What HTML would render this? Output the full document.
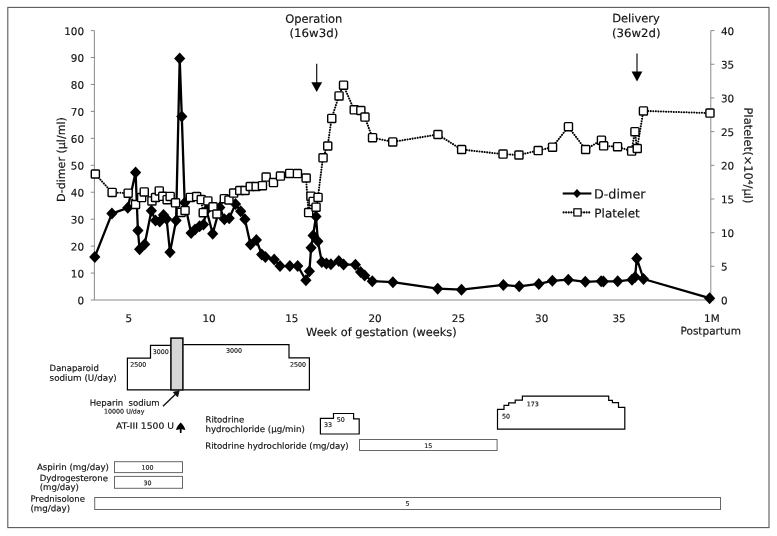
<!DOCTYPE html>
<html lang="en"><head><meta charset="utf-8"><title>Clinical course</title>
<style>html,body{margin:0;padding:0;background:#fff}svg{display:block}text{font-family:"DejaVu Sans","Liberation Sans",sans-serif;fill:#111;stroke:#111;stroke-width:.16px;stroke-linejoin:round}</style>
</head><body>
<svg width="777" height="536" viewBox="0 0 777 536">
<rect x="0" y="0" width="777" height="536" fill="#fff"/>
<rect x="7.8" y="7.4" width="761.2" height="520.2" fill="none" stroke="#5a5a5a" stroke-width="1.1"/>
<g stroke="#8a8a8a" stroke-width="1" fill="none">
<path d="M94.4 30.6 V300.0 H710.8 V30.6"/>
<path d="M90.8 300.00 H94.4"/>
<path d="M90.8 273.06 H94.4"/>
<path d="M90.8 246.12 H94.4"/>
<path d="M90.8 219.18 H94.4"/>
<path d="M90.8 192.24 H94.4"/>
<path d="M90.8 165.30 H94.4"/>
<path d="M90.8 138.36 H94.4"/>
<path d="M90.8 111.42 H94.4"/>
<path d="M90.8 84.48 H94.4"/>
<path d="M90.8 57.54 H94.4"/>
<path d="M90.8 30.60 H94.4"/>
<path d="M710.8 300.00 H714.4"/>
<path d="M710.8 266.32 H714.4"/>
<path d="M710.8 232.65 H714.4"/>
<path d="M710.8 198.98 H714.4"/>
<path d="M710.8 165.30 H714.4"/>
<path d="M710.8 131.62 H714.4"/>
<path d="M710.8 97.95 H714.4"/>
<path d="M710.8 64.28 H714.4"/>
<path d="M710.8 30.60 H714.4"/>
</g>
<g font-size="10.4" text-anchor="end">
<text transform="rotate(.03 84 304.3)" x="84" y="304.3">0</text>
<text transform="rotate(.03 84 277.4)" x="84" y="277.4">10</text>
<text transform="rotate(.03 84 250.4)" x="84" y="250.4">20</text>
<text transform="rotate(.03 84 223.5)" x="84" y="223.5">30</text>
<text transform="rotate(.03 84 196.5)" x="84" y="196.5">40</text>
<text transform="rotate(.03 84 169.6)" x="84" y="169.6">50</text>
<text transform="rotate(.03 84 142.7)" x="84" y="142.7">60</text>
<text transform="rotate(.03 84 115.7)" x="84" y="115.7">70</text>
<text transform="rotate(.03 84 88.8)" x="84" y="88.8">80</text>
<text transform="rotate(.03 84 61.8)" x="84" y="61.8">90</text>
<text transform="rotate(.03 84 34.9)" x="84" y="34.9">100</text>
</g>
<g font-size="10.4" text-anchor="start">
<text transform="rotate(.03 721 304.3)" x="721" y="304.3">0</text>
<text transform="rotate(.03 721 270.6)" x="721" y="270.6">5</text>
<text transform="rotate(.03 721 237.0)" x="721" y="237.0">10</text>
<text transform="rotate(.03 721 203.3)" x="721" y="203.3">15</text>
<text transform="rotate(.03 721 169.6)" x="721" y="169.6">20</text>
<text transform="rotate(.03 721 135.9)" x="721" y="135.9">25</text>
<text transform="rotate(.03 721 102.3)" x="721" y="102.3">30</text>
<text transform="rotate(.03 721 68.6)" x="721" y="68.6">35</text>
<text transform="rotate(.03 721 34.9)" x="721" y="34.9">40</text>
</g>
<g font-size="10.4" text-anchor="middle">
<text transform="rotate(.03 128.9 321.9)" x="128.9" y="321.9">5</text>
<text transform="rotate(.03 209.0 321.9)" x="209.0" y="321.9">10</text>
<text transform="rotate(.03 291.8 321.9)" x="291.8" y="321.9">15</text>
<text transform="rotate(.03 375.0 321.9)" x="375.0" y="321.9">20</text>
<text transform="rotate(.03 458.4 321.9)" x="458.4" y="321.9">25</text>
<text transform="rotate(.03 541.7 321.9)" x="541.7" y="321.9">30</text>
<text transform="rotate(.03 619.0 321.9)" x="619.0" y="321.9">35</text>
<text transform="rotate(.03 711.9 321.9)" x="711.9" y="321.9">1M</text>
</g>
<text transform="rotate(.03 381.4 336)" x="381.4" y="336" font-size="11.35" text-anchor="middle">Week of gestation (weeks)</text>
<text transform="rotate(.03 710.7 334.5)" x="710.7" y="334.5" font-size="10.5" text-anchor="middle">Postpartum</text>
<text transform="rotate(.03 313.8 22.8)" x="313.8" y="22.8" font-size="11.5" text-anchor="middle">Operation</text>
<text transform="rotate(.03 289.5 37)" x="289.5" y="37" font-size="11.5" textLength="48.8" lengthAdjust="spacingAndGlyphs">(16w3d)</text>
<text transform="rotate(.03 636 22.3)" x="636" y="22.3" font-size="11.5" text-anchor="middle">Delivery</text>
<text transform="rotate(.03 611.9 37)" x="611.9" y="37" font-size="11.5" textLength="48.6" lengthAdjust="spacingAndGlyphs">(36w2d)</text>
<text transform="translate(64.9 159.5) rotate(-89.97)" font-size="11.1" text-anchor="middle">D-dimer (μl/ml)</text>
<text transform="translate(744.2 155.5) rotate(90.03)" font-size="11.5" text-anchor="middle">Platelet(×10⁴/μl)</text>
<path d="M316.7 63.8 V84.0" stroke="#111" stroke-width="1.2" fill="none"/>
<path d="M311.3 82.2 L322.1 82.2 L316.7 92.0 Z" fill="#000"/>
<path d="M637.0 53.4 V73.4" stroke="#111" stroke-width="1.2" fill="none"/>
<path d="M631.6 71.6 L642.4 71.6 L637.0 81.4 Z" fill="#000"/>
<polyline points="94.8,256.9 111.9,213.6 127.8,207.8 135.6,172.6 137.9,230.5 139.6,249.3 144.7,244.3 151.4,210.8 155.5,220.4 159.8,221.6 163.5,215.0 166.6,219.0 170.0,252.2 176.1,220.5 179.7,58.6 181.8,116.6 184.7,202.7 191.1,232.9 195.0,229.6 199.6,226.3 203.5,224.4 206.5,210.0 212.7,233.8 219.8,207.4 224.4,219.2 229.2,218.2 235.5,204.1 240.7,211.3 244.9,219.2 250.5,244.6 256.4,240.0 261.7,254.4 265.4,257.0 274.2,259.6 280.0,266.1 289.8,266.1 297.7,265.9 305.9,280.2 309.4,271.3 311.1,247.8 313.1,235.4 316.0,216.5 317.9,241.3 321.8,262.0 326.4,263.5 330.9,264.2 338.8,260.9 343.6,264.5 355.4,264.7 360.6,271.9 364.7,275.4 372.3,281.2 392.9,282.2 437.7,288.7 461.5,289.7 503.4,284.9 519.2,286.3 538.8,283.9 552.4,280.8 568.3,279.7 585.3,281.8 601.2,281.2 603.4,281.4 617.7,281.3 632.0,279.7 635.1,277.0 636.8,258.4 643.5,279.0 709.6,298.2" fill="none" stroke="#000" stroke-width="2.3" stroke-linejoin="round"/>
<g fill="#000">
<path d="M94.8 250.9 l5.6 6 l-5.6 6 l-5.6 -6z"/>
<path d="M111.9 207.6 l5.6 6 l-5.6 6 l-5.6 -6z"/>
<path d="M127.8 201.8 l5.6 6 l-5.6 6 l-5.6 -6z"/>
<path d="M135.6 166.6 l5.6 6 l-5.6 6 l-5.6 -6z"/>
<path d="M137.9 224.5 l5.6 6 l-5.6 6 l-5.6 -6z"/>
<path d="M139.6 243.3 l5.6 6 l-5.6 6 l-5.6 -6z"/>
<path d="M144.7 238.3 l5.6 6 l-5.6 6 l-5.6 -6z"/>
<path d="M151.4 204.8 l5.6 6 l-5.6 6 l-5.6 -6z"/>
<path d="M155.5 214.4 l5.6 6 l-5.6 6 l-5.6 -6z"/>
<path d="M159.8 215.6 l5.6 6 l-5.6 6 l-5.6 -6z"/>
<path d="M163.5 209.0 l5.6 6 l-5.6 6 l-5.6 -6z"/>
<path d="M166.6 213.0 l5.6 6 l-5.6 6 l-5.6 -6z"/>
<path d="M170.0 246.2 l5.6 6 l-5.6 6 l-5.6 -6z"/>
<path d="M176.1 214.5 l5.6 6 l-5.6 6 l-5.6 -6z"/>
<path d="M179.7 52.6 l5.6 6 l-5.6 6 l-5.6 -6z"/>
<path d="M181.8 110.6 l5.6 6 l-5.6 6 l-5.6 -6z"/>
<path d="M184.7 196.7 l5.6 6 l-5.6 6 l-5.6 -6z"/>
<path d="M191.1 226.9 l5.6 6 l-5.6 6 l-5.6 -6z"/>
<path d="M195.0 223.6 l5.6 6 l-5.6 6 l-5.6 -6z"/>
<path d="M199.6 220.3 l5.6 6 l-5.6 6 l-5.6 -6z"/>
<path d="M203.5 218.4 l5.6 6 l-5.6 6 l-5.6 -6z"/>
<path d="M206.5 204.0 l5.6 6 l-5.6 6 l-5.6 -6z"/>
<path d="M212.7 227.8 l5.6 6 l-5.6 6 l-5.6 -6z"/>
<path d="M219.8 201.4 l5.6 6 l-5.6 6 l-5.6 -6z"/>
<path d="M224.4 213.2 l5.6 6 l-5.6 6 l-5.6 -6z"/>
<path d="M229.2 212.2 l5.6 6 l-5.6 6 l-5.6 -6z"/>
<path d="M235.5 198.1 l5.6 6 l-5.6 6 l-5.6 -6z"/>
<path d="M240.7 205.3 l5.6 6 l-5.6 6 l-5.6 -6z"/>
<path d="M244.9 213.2 l5.6 6 l-5.6 6 l-5.6 -6z"/>
<path d="M250.5 238.6 l5.6 6 l-5.6 6 l-5.6 -6z"/>
<path d="M256.4 234.0 l5.6 6 l-5.6 6 l-5.6 -6z"/>
<path d="M261.7 248.4 l5.6 6 l-5.6 6 l-5.6 -6z"/>
<path d="M265.4 251.0 l5.6 6 l-5.6 6 l-5.6 -6z"/>
<path d="M274.2 253.6 l5.6 6 l-5.6 6 l-5.6 -6z"/>
<path d="M280.0 260.1 l5.6 6 l-5.6 6 l-5.6 -6z"/>
<path d="M289.8 260.1 l5.6 6 l-5.6 6 l-5.6 -6z"/>
<path d="M297.7 259.9 l5.6 6 l-5.6 6 l-5.6 -6z"/>
<path d="M305.9 274.2 l5.6 6 l-5.6 6 l-5.6 -6z"/>
<path d="M309.4 265.3 l5.6 6 l-5.6 6 l-5.6 -6z"/>
<path d="M311.1 241.8 l5.6 6 l-5.6 6 l-5.6 -6z"/>
<path d="M313.1 229.4 l5.6 6 l-5.6 6 l-5.6 -6z"/>
<path d="M316.0 210.5 l5.6 6 l-5.6 6 l-5.6 -6z"/>
<path d="M317.9 235.3 l5.6 6 l-5.6 6 l-5.6 -6z"/>
<path d="M321.8 256.0 l5.6 6 l-5.6 6 l-5.6 -6z"/>
<path d="M326.4 257.5 l5.6 6 l-5.6 6 l-5.6 -6z"/>
<path d="M330.9 258.2 l5.6 6 l-5.6 6 l-5.6 -6z"/>
<path d="M338.8 254.9 l5.6 6 l-5.6 6 l-5.6 -6z"/>
<path d="M343.6 258.5 l5.6 6 l-5.6 6 l-5.6 -6z"/>
<path d="M355.4 258.7 l5.6 6 l-5.6 6 l-5.6 -6z"/>
<path d="M360.6 265.9 l5.6 6 l-5.6 6 l-5.6 -6z"/>
<path d="M364.7 269.4 l5.6 6 l-5.6 6 l-5.6 -6z"/>
<path d="M372.3 275.2 l5.6 6 l-5.6 6 l-5.6 -6z"/>
<path d="M392.9 276.2 l5.6 6 l-5.6 6 l-5.6 -6z"/>
<path d="M437.7 282.7 l5.6 6 l-5.6 6 l-5.6 -6z"/>
<path d="M461.5 283.7 l5.6 6 l-5.6 6 l-5.6 -6z"/>
<path d="M503.4 278.9 l5.6 6 l-5.6 6 l-5.6 -6z"/>
<path d="M519.2 280.3 l5.6 6 l-5.6 6 l-5.6 -6z"/>
<path d="M538.8 277.9 l5.6 6 l-5.6 6 l-5.6 -6z"/>
<path d="M552.4 274.8 l5.6 6 l-5.6 6 l-5.6 -6z"/>
<path d="M568.3 273.7 l5.6 6 l-5.6 6 l-5.6 -6z"/>
<path d="M585.3 275.8 l5.6 6 l-5.6 6 l-5.6 -6z"/>
<path d="M601.2 275.2 l5.6 6 l-5.6 6 l-5.6 -6z"/>
<path d="M603.4 275.4 l5.6 6 l-5.6 6 l-5.6 -6z"/>
<path d="M617.7 275.3 l5.6 6 l-5.6 6 l-5.6 -6z"/>
<path d="M632.0 273.7 l5.6 6 l-5.6 6 l-5.6 -6z"/>
<path d="M635.1 271.0 l5.6 6 l-5.6 6 l-5.6 -6z"/>
<path d="M636.8 252.4 l5.6 6 l-5.6 6 l-5.6 -6z"/>
<path d="M643.5 273.0 l5.6 6 l-5.6 6 l-5.6 -6z"/>
<path d="M709.6 292.2 l5.6 6 l-5.6 6 l-5.6 -6z"/>
</g>
<polyline points="95.2,174.0 112.0,192.4 128.0,193.2 135.4,204.5 141.5,197.6 144.1,191.9 151.8,200.9 155.4,197.5 159.1,190.9 162.6,196.3 167.0,199.7 170.0,196.4 175.4,202.8 181.0,212.4 184.9,210.5 190.2,197.4 196.5,196.6 201.1,199.6 203.1,212.7 207.7,200.9 212.9,206.8 216.8,214.0 224.2,198.7 228.8,200.0 233.5,193.1 239.6,190.5 244.9,190.5 250.1,186.5 256.0,186.5 262.3,185.7 266.0,177.1 273.3,182.6 280.3,176.1 289.5,173.4 297.3,173.6 306.0,178.0 308.5,212.6 310.8,196.2 313.0,201.4 315.9,207.2 317.9,197.4 322.9,157.8 327.6,146.0 331.6,118.4 338.9,95.9 343.4,85.2 354.1,109.8 360.7,110.5 364.8,117.1 372.4,137.7 392.6,141.9 437.8,134.5 461.5,149.5 502.9,154.1 518.8,155.0 538.0,150.6 552.4,147.2 568.3,126.7 585.5,149.5 601.3,140.2 603.5,145.8 617.4,146.7 631.5,151.1 634.8,131.7 637.1,148.5 643.3,110.9 709.8,113.1" fill="none" stroke="#000" stroke-width="2.05" stroke-linecap="round" stroke-dasharray="0.01 2.55"/>
<g fill="#fff" stroke="#000" stroke-width="1.4">
<rect x="91.30" y="169.95" width="8.1" height="8.1" rx="0.8"/>
<rect x="108.10" y="188.35" width="8.1" height="8.1" rx="0.8"/>
<rect x="124.10" y="189.15" width="8.1" height="8.1" rx="0.8"/>
<rect x="131.50" y="200.45" width="8.1" height="8.1" rx="0.8"/>
<rect x="137.60" y="193.55" width="8.1" height="8.1" rx="0.8"/>
<rect x="140.20" y="187.85" width="8.1" height="8.1" rx="0.8"/>
<rect x="147.90" y="196.85" width="8.1" height="8.1" rx="0.8"/>
<rect x="151.50" y="193.45" width="8.1" height="8.1" rx="0.8"/>
<rect x="155.20" y="186.85" width="8.1" height="8.1" rx="0.8"/>
<rect x="158.70" y="192.25" width="8.1" height="8.1" rx="0.8"/>
<rect x="163.10" y="195.65" width="8.1" height="8.1" rx="0.8"/>
<rect x="166.10" y="192.35" width="8.1" height="8.1" rx="0.8"/>
<rect x="171.50" y="198.75" width="8.1" height="8.1" rx="0.8"/>
<rect x="177.10" y="208.35" width="8.1" height="8.1" rx="0.8"/>
<rect x="181.00" y="206.45" width="8.1" height="8.1" rx="0.8"/>
<rect x="186.30" y="193.35" width="8.1" height="8.1" rx="0.8"/>
<rect x="192.60" y="192.55" width="8.1" height="8.1" rx="0.8"/>
<rect x="197.20" y="195.55" width="8.1" height="8.1" rx="0.8"/>
<rect x="199.20" y="208.65" width="8.1" height="8.1" rx="0.8"/>
<rect x="203.80" y="196.85" width="8.1" height="8.1" rx="0.8"/>
<rect x="209.00" y="202.75" width="8.1" height="8.1" rx="0.8"/>
<rect x="212.90" y="209.95" width="8.1" height="8.1" rx="0.8"/>
<rect x="220.30" y="194.65" width="8.1" height="8.1" rx="0.8"/>
<rect x="224.90" y="195.95" width="8.1" height="8.1" rx="0.8"/>
<rect x="229.60" y="189.05" width="8.1" height="8.1" rx="0.8"/>
<rect x="235.70" y="186.45" width="8.1" height="8.1" rx="0.8"/>
<rect x="241.00" y="186.45" width="8.1" height="8.1" rx="0.8"/>
<rect x="246.20" y="182.45" width="8.1" height="8.1" rx="0.8"/>
<rect x="252.10" y="182.45" width="8.1" height="8.1" rx="0.8"/>
<rect x="258.40" y="181.65" width="8.1" height="8.1" rx="0.8"/>
<rect x="262.10" y="173.05" width="8.1" height="8.1" rx="0.8"/>
<rect x="269.40" y="178.55" width="8.1" height="8.1" rx="0.8"/>
<rect x="276.40" y="172.05" width="8.1" height="8.1" rx="0.8"/>
<rect x="285.60" y="169.35" width="8.1" height="8.1" rx="0.8"/>
<rect x="293.40" y="169.55" width="8.1" height="8.1" rx="0.8"/>
<rect x="302.10" y="173.95" width="8.1" height="8.1" rx="0.8"/>
<rect x="304.60" y="208.55" width="8.1" height="8.1" rx="0.8"/>
<rect x="306.90" y="192.15" width="8.1" height="8.1" rx="0.8"/>
<rect x="309.10" y="197.35" width="8.1" height="8.1" rx="0.8"/>
<rect x="312.00" y="203.15" width="8.1" height="8.1" rx="0.8"/>
<rect x="314.00" y="193.35" width="8.1" height="8.1" rx="0.8"/>
<rect x="319.00" y="153.75" width="8.1" height="8.1" rx="0.8"/>
<rect x="323.70" y="141.95" width="8.1" height="8.1" rx="0.8"/>
<rect x="327.70" y="114.35" width="8.1" height="8.1" rx="0.8"/>
<rect x="335.00" y="91.85" width="8.1" height="8.1" rx="0.8"/>
<rect x="339.50" y="81.15" width="8.1" height="8.1" rx="0.8"/>
<rect x="350.20" y="105.75" width="8.1" height="8.1" rx="0.8"/>
<rect x="356.80" y="106.45" width="8.1" height="8.1" rx="0.8"/>
<rect x="360.90" y="113.05" width="8.1" height="8.1" rx="0.8"/>
<rect x="368.50" y="133.65" width="8.1" height="8.1" rx="0.8"/>
<rect x="388.70" y="137.85" width="8.1" height="8.1" rx="0.8"/>
<rect x="433.90" y="130.45" width="8.1" height="8.1" rx="0.8"/>
<rect x="457.60" y="145.45" width="8.1" height="8.1" rx="0.8"/>
<rect x="499.00" y="150.05" width="8.1" height="8.1" rx="0.8"/>
<rect x="514.90" y="150.95" width="8.1" height="8.1" rx="0.8"/>
<rect x="534.10" y="146.55" width="8.1" height="8.1" rx="0.8"/>
<rect x="548.50" y="143.15" width="8.1" height="8.1" rx="0.8"/>
<rect x="564.40" y="122.65" width="8.1" height="8.1" rx="0.8"/>
<rect x="581.60" y="145.45" width="8.1" height="8.1" rx="0.8"/>
<rect x="597.40" y="136.15" width="8.1" height="8.1" rx="0.8"/>
<rect x="599.60" y="141.75" width="8.1" height="8.1" rx="0.8"/>
<rect x="613.50" y="142.65" width="8.1" height="8.1" rx="0.8"/>
<rect x="627.60" y="147.05" width="8.1" height="8.1" rx="0.8"/>
<rect x="630.90" y="127.65" width="8.1" height="8.1" rx="0.8"/>
<rect x="633.20" y="144.45" width="8.1" height="8.1" rx="0.8"/>
<rect x="639.40" y="106.85" width="8.1" height="8.1" rx="0.8"/>
<rect x="705.90" y="109.05" width="8.1" height="8.1" rx="0.8"/>
</g>
<path d="M562.7 193.5 H591.4" stroke="#000" stroke-width="2.1"/>
<path d="M577 189 l4.1 4.5 l-4.1 4.5 l-4.1 -4.5z" fill="#000"/>
<path d="M563.6 212.4 H590" stroke="#000" stroke-width="2.15" stroke-linecap="round" stroke-dasharray="0.01 2.55"/>
<rect x="573.9" y="208.8" width="7.2" height="7.2" fill="#fff" stroke="#000" stroke-width="1.2"/>
<text transform="rotate(.03 593.9 198.5)" x="593.9" y="198.5" font-size="12.7" textLength="51.6" lengthAdjust="spacingAndGlyphs">D-dimer</text>
<text transform="rotate(.03 594.3 217.4)" x="594.3" y="217.4" font-size="12.1" textLength="45.5" lengthAdjust="spacingAndGlyphs">Platelet</text>
<g fill="none" stroke="#000" stroke-width="1.2" stroke-linejoin="miter">
<path d="M170.8 389.8 H127.4 V358.1 H150.5 V345.4 H170.8"/>
<path d="M183.4 344.7 H289 V357.8 H309.4 V389.9 H183.4"/>
<rect x="170.9" y="338.1" width="12" height="51.9" fill="#d6d6d6" stroke-width="1.5"/>
<path d="M320.4 434 V418.3 H333.5 V413.5 H353.6 V418.9 H359.2 V434 Z"/>
<path d="M497.5 429.1 V409.4 H504 V405.3 H508.7 V402.9 H515.2 V400.1 H522.4 V396.2 H608.7 V400.4 H612.4 V402.7 H618.5 V407.4 H624.8 V429.1 Z"/>
</g>
<path d="M163 406.2 L176.5 393.3" stroke="#111" stroke-width="1.4" fill="none"/>
<path d="M179.2 390.7 L177.6 396.9 L173.2 392.3 Z" fill="#111" stroke="#111" stroke-width="0.8" stroke-linejoin="round"/>
<path d="M180.7 422.6 C182.6 424.3 184.7 427.2 185.4 429.9 L181.6 429.2 L181.5 433 H179.9 L179.8 429.2 L176 429.9 C176.7 427.2 178.8 424.3 180.7 422.6 Z" fill="#000"/>
<g fill="#fff" stroke="#666" stroke-width="1">
<rect x="359.5" y="439.5" width="137.6" height="11"/>
<rect x="114.5" y="461.7" width="68" height="10.9"/>
<rect x="114.5" y="476.4" width="68" height="11.9"/>
<rect x="94.7" y="497.5" width="625.8" height="12"/>
</g>
<g font-size="8.5" style="stroke-width:.1px">
<text transform="rotate(.03 49.6 371.1)" x="49.6" y="371.1">Danaparoid</text>
<text transform="rotate(.03 49.6 380.8)" x="49.6" y="380.8" textLength="67.2" lengthAdjust="spacingAndGlyphs">sodium (U/day)</text>
<text transform="rotate(.03 89.7 405.7)" x="89.7" y="405.7" xml:space="preserve">Heparin  sodium</text>
<text transform="rotate(.03 116.1 428.8)" x="116.1" y="428.8" textLength="57.8" lengthAdjust="spacingAndGlyphs">AT-III 1500 U</text>
<text transform="rotate(.03 205.5 422.4)" x="205.5" y="422.4">Ritodrine</text>
<text transform="rotate(.03 205.5 432)" x="205.5" y="432" textLength="99.3" lengthAdjust="spacingAndGlyphs">hydrochloride (μg/min)</text>
<text transform="rotate(.03 205.2 448.7)" x="205.2" y="448.7" textLength="143.5" lengthAdjust="spacingAndGlyphs">Ritodrine hydrochloride (mg/day)</text>
<text transform="rotate(.03 36.9 470)" x="36.9" y="470" textLength="72.1" lengthAdjust="spacingAndGlyphs">Aspirin (mg/day)</text>
<text transform="rotate(.03 39.7 481.1)" x="39.7" y="481.1">Dydrogesterone</text>
<text transform="rotate(.03 39.7 489.9)" x="39.7" y="489.9" textLength="39.3" lengthAdjust="spacingAndGlyphs">(mg/day)</text>
<text transform="rotate(.03 30.4 501.8)" x="30.4" y="501.8">Prednisolone</text>
<text transform="rotate(.03 30.4 511.2)" x="30.4" y="511.2" textLength="39.7" lengthAdjust="spacingAndGlyphs">(mg/day)</text>
</g>
<g font-size="6.3" style="stroke-width:.04px">
<text transform="rotate(.03 104.1 413.5)" x="104.1" y="413.5">10000 U/day</text>
<text transform="rotate(.03 130.3 366.7)" x="130.3" y="366.7">2500</text>
<text transform="rotate(.03 152.7 353.9)" x="152.7" y="353.9">3000</text>
<text transform="rotate(.03 226 352.7)" x="226" y="352.7">3000</text>
<text transform="rotate(.03 290.1 366.7)" x="290.1" y="366.7">2500</text>
<text transform="rotate(.03 323.9 427.1)" x="323.9" y="427.1">33</text>
<text transform="rotate(.03 336.8 421.7)" x="336.8" y="421.7">50</text>
<text transform="rotate(.03 502.1 418.6)" x="502.1" y="418.6">50</text>
<text transform="rotate(.03 526.8 406.3)" x="526.8" y="406.3">173</text>
<text transform="rotate(.03 428.3 447.9)" x="428.3" y="447.9" text-anchor="middle">15</text>
<text transform="rotate(.03 147.5 469.7)" x="147.5" y="469.7" text-anchor="middle">100</text>
<text transform="rotate(.03 147.5 485.3)" x="147.5" y="485.3" text-anchor="middle">30</text>
<text transform="rotate(.03 407.5 505.8)" x="407.5" y="505.8" text-anchor="middle">5</text>
</g>
</svg></body></html>
